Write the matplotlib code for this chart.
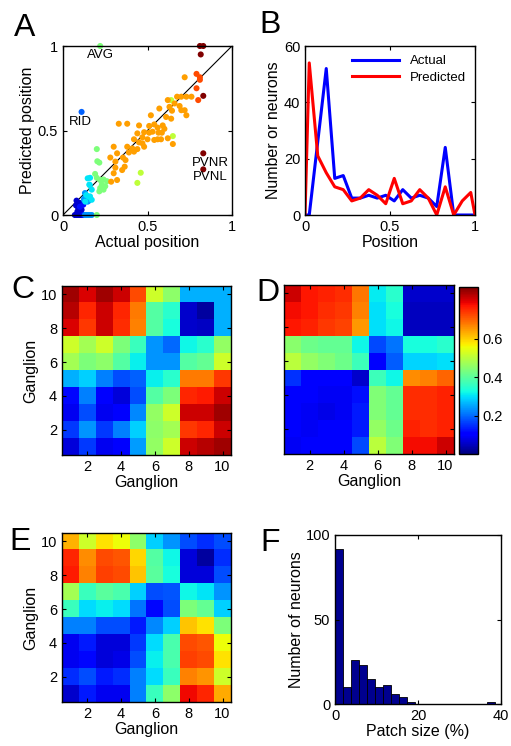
import numpy as np
import matplotlib
matplotlib.use('Agg')
import matplotlib.pyplot as plt

plt.rcParams['font.family'] = ['Liberation Sans', 'DejaVu Sans']
plt.rcParams['xtick.direction'] = 'in'
plt.rcParams['ytick.direction'] = 'in'
plt.rcParams['xtick.top'] = True
plt.rcParams['ytick.right'] = True
plt.rcParams['xtick.major.size'] = 3
plt.rcParams['ytick.major.size'] = 3
plt.rcParams['axes.linewidth'] = 1.0

# ---- panel A: predicted vs actual position, one group per colour ----
darkblue_x = [0.07, 0.08, 0.09, 0.10, 0.11, 0.12, 0.08, 0.10, 0.105, 0.077, 0.11, 0.09, 0.085, 0.095]
darkblue_y = [0.0, 0.0, 0.0, 0.0, 0.0, 0.0, 0.085, 0.071, 0.051, 0.057, 0.031, 0.041, 0.02, 0.0]
blue_x = [0.12, 0.13, 0.12, 0.10]
blue_y = [0.0, 0.0, 0.061, 0.049]
rid_x = [0.11]
rid_y = [0.61]
azure_x = [0.13, 0.14, 0.15, 0.16, 0.17, 0.13, 0.14, 0.15, 0.124, 0.126, 0.146]
azure_y = [0.0, 0.0, 0.0, 0.0, 0.0, 0.13, 0.10, 0.083, 0.09, 0.099, 0.079]
cyan_x = [0.16, 0.156, 0.17, 0.16, 0.17, 0.146, 0.138, 0.152, 0.132, 0.158]
cyan_y = [0.22, 0.18, 0.15, 0.11, 0.09, 0.217, 0.118, 0.108, 0.079, 0.177]
green_x = [0.22, 0.20, 0.203, 0.215, 0.19, 0.24, 0.26, 0.23, 0.22, 0.24, 0.215, 0.25, 0.20, 0.20, 0.22]
green_y = [1.0, 0.39, 0.318, 0.31, 0.243, 0.21, 0.20, 0.18, 0.16, 0.15, 0.14, 0.17, 0.22, 0.0, 0.207]
ygreen_x = [0.64, 0.65, 0.46, 0.44]
ygreen_y = [0.68, 0.467, 0.25, 0.19]
orange_x = [0.72, 0.73, 0.76, 0.70, 0.675, 0.62, 0.57, 0.63, 0.69, 0.70, 0.645, 0.72,
            0.64, 0.73, 0.52, 0.45, 0.33, 0.38, 0.51, 0.54, 0.56, 0.59, 0.60, 0.585,
            0.565, 0.53, 0.51, 0.48, 0.44, 0.47, 0.42, 0.45, 0.50, 0.54, 0.56, 0.58,
            0.62, 0.65, 0.30, 0.38, 0.41, 0.42, 0.44, 0.32, 0.355, 0.37, 0.31, 0.365,
            0.31, 0.35, 0.30, 0.285, 0.47, 0.48, 0.32, 0.28, 0.66, 0.61, 0.39]
orange_y = [0.815, 0.70, 0.70, 0.70, 0.70, 0.68, 0.63, 0.64, 0.645, 0.62, 0.617, 0.62,
            0.57, 0.59, 0.59, 0.53, 0.54, 0.54, 0.527, 0.536, 0.517, 0.53, 0.51, 0.487,
            0.487, 0.493, 0.487, 0.49, 0.483, 0.46, 0.448, 0.43, 0.448, 0.444, 0.448, 0.448,
            0.454, 0.42, 0.404, 0.404, 0.394, 0.375, 0.39, 0.365, 0.34, 0.325, 0.316, 0.286,
            0.28, 0.266, 0.247, 0.197, 0.424, 0.404, 0.207, 0.34, 0.66, 0.58, 0.37]
orangered_x = [0.79, 0.81, 0.79, 0.80, 0.81]
orangered_y = [0.835, 0.815, 0.75, 0.68, 0.80]
darkred_x = [0.81, 0.83, 0.815, 0.83, 0.83, 0.83]
darkred_y = [1.0, 1.0, 0.95, 0.705, 0.365, 0.27]

# ---- panel B: position histograms ----
pos_x = [0.0, 0.025, 0.075, 0.125, 0.175, 0.225, 0.275, 0.325, 0.375, 0.425, 0.475,
         0.525, 0.575, 0.625, 0.675, 0.725, 0.775, 0.825, 0.875, 0.925, 0.975, 1.0]
actual_n = [0, 0, 26, 52, 13, 14, 6, 6, 7, 6, 7, 5, 9, 6, 7, 6, 3, 24, 0, 0, 0, 0]
predicted_n = [0, 54, 21, 15, 10, 9, 5, 6, 9, 7, 4, 13, 4, 5, 9, 6, 0, 10, 0, 5, 8, 0]

# ---- panels C, D, E: ganglion x ganglion matrices (row 1 = ganglion 1) ----
c_mat = [
    [0.08, 0.18, 0.10, 0.12, 0.28, 0.53, 0.60, 0.93, 0.95, 0.97],
    [0.18, 0.27, 0.18, 0.25, 0.33, 0.52, 0.55, 0.85, 0.87, 0.93],
    [0.10, 0.20, 0.10, 0.12, 0.26, 0.53, 0.60, 0.93, 0.93, 0.97],
    [0.13, 0.25, 0.12, 0.08, 0.20, 0.45, 0.50, 0.87, 0.88, 0.93],
    [0.30, 0.33, 0.25, 0.20, 0.22, 0.36, 0.40, 0.78, 0.78, 0.85],
    [0.55, 0.50, 0.52, 0.45, 0.36, 0.27, 0.27, 0.45, 0.47, 0.60],
    [0.60, 0.55, 0.60, 0.50, 0.42, 0.27, 0.23, 0.37, 0.40, 0.53],
    [0.92, 0.85, 0.93, 0.86, 0.77, 0.45, 0.38, 0.07, 0.06, 0.30],
    [0.95, 0.87, 0.93, 0.87, 0.78, 0.45, 0.40, 0.07, 0.03, 0.30],
    [0.97, 0.92, 0.97, 0.93, 0.83, 0.60, 0.52, 0.30, 0.30, 0.30],
]
d_mat = [
    [0.09, 0.10, 0.10, 0.10, 0.17, 0.50, 0.44, 0.78, 0.78, 0.81],
    [0.10, 0.09, 0.10, 0.10, 0.13, 0.46, 0.42, 0.76, 0.75, 0.76],
    [0.10, 0.09, 0.08, 0.09, 0.13, 0.44, 0.41, 0.75, 0.75, 0.76],
    [0.10, 0.10, 0.09, 0.09, 0.12, 0.44, 0.41, 0.75, 0.75, 0.76],
    [0.15, 0.11, 0.11, 0.10, 0.06, 0.37, 0.32, 0.66, 0.67, 0.70],
    [0.50, 0.46, 0.44, 0.42, 0.37, 0.11, 0.19, 0.29, 0.29, 0.30],
    [0.45, 0.42, 0.41, 0.41, 0.32, 0.17, 0.21, 0.33, 0.33, 0.35],
    [0.77, 0.76, 0.74, 0.73, 0.65, 0.30, 0.32, 0.05, 0.05, 0.05],
    [0.78, 0.77, 0.75, 0.74, 0.67, 0.30, 0.33, 0.05, 0.05, 0.05],
    [0.81, 0.77, 0.76, 0.75, 0.68, 0.31, 0.35, 0.06, 0.06, 0.06],
]
e_mat = [
    [0.07, 0.15, 0.10, 0.10, 0.25, 0.42, 0.52, 0.90, 0.87, 0.73],
    [0.17, 0.20, 0.15, 0.17, 0.25, 0.34, 0.42, 0.77, 0.75, 0.60],
    [0.10, 0.13, 0.08, 0.09, 0.20, 0.36, 0.44, 0.84, 0.83, 0.67],
    [0.10, 0.15, 0.08, 0.08, 0.18, 0.34, 0.44, 0.83, 0.82, 0.64],
    [0.25, 0.25, 0.20, 0.20, 0.15, 0.26, 0.33, 0.70, 0.67, 0.50],
    [0.42, 0.34, 0.36, 0.34, 0.24, 0.13, 0.20, 0.50, 0.47, 0.33],
    [0.55, 0.42, 0.46, 0.44, 0.33, 0.20, 0.21, 0.37, 0.35, 0.27],
    [0.88, 0.77, 0.84, 0.83, 0.70, 0.46, 0.38, 0.08, 0.08, 0.20],
    [0.87, 0.76, 0.83, 0.82, 0.68, 0.45, 0.37, 0.08, 0.03, 0.17],
    [0.72, 0.60, 0.67, 0.64, 0.52, 0.33, 0.27, 0.20, 0.17, 0.20],
]
ganglion_ticks = [2, 4, 6, 8, 10]

# ---- panel F: patch size histogram ----
patch_edges = [0, 1.93, 3.86, 5.79, 7.72, 9.65, 11.58, 13.51, 15.44, 17.37, 19.3,
               21.23, 23.16, 25.09, 27.02, 28.95, 30.88, 32.81, 34.74, 36.67, 38.6]
patch_counts = [92, 10, 26, 23, 15, 10, 11, 6, 4, 1, 0, 0, 0, 0, 0, 0, 0, 0, 0, 1]

W, H = 511, 746
fig = plt.figure(figsize=(W / 100, H / 100), dpi=100)


def box(l, t, r, b):
    return [l / W, 1 - b / H, (r - l) / W, (b - t) / H]


tick_fs = 10.5
label_fs = 11.5
letter_fs = 23
jet = plt.cm.jet

# A
axA = fig.add_axes(box(63, 46, 232, 215))
axA.plot([0, 1], [0, 1], color='k', lw=0.8, zorder=1)
groups = [(darkblue_x, darkblue_y, 0.07), (blue_x, blue_y, 0.14), (rid_x, rid_y, 0.22),
          (azure_x, azure_y, 0.27), (cyan_x, cyan_y, 0.35), (green_x, green_y, 0.5),
          (ygreen_x, ygreen_y, 0.58), (orange_x, orange_y, 0.74), (orangered_x, orangered_y, 0.83),
          (darkred_x, darkred_y, 1.0)]
for gx, gy, c in groups:
    axA.scatter(gx, gy, s=19, color=jet(c), edgecolors='none', zorder=2, clip_on=False)
axA.text(0.22, 0.945, 'AVG', ha='center', va='center', fontsize=9.5)
axA.text(0.10, 0.55, 'RID', ha='center', va='center', fontsize=9.5)
axA.text(0.87, 0.31, 'PVNR', ha='center', va='center', fontsize=9.5)
axA.text(0.87, 0.227, 'PVNL', ha='center', va='center', fontsize=9.5)
axA.set_xlim(0, 1)
axA.set_ylim(0, 1)
axA.set_xticks([0, 0.5, 1], ['0', '0.5', '1'])
axA.set_yticks([0, 0.5, 1], ['0', '0.5', '1'])
axA.set_xlabel('Actual position', fontsize=label_fs, labelpad=1)
axA.set_ylabel('Predicted position', fontsize=label_fs, labelpad=2)

# B
axB = fig.add_axes(box(305, 46, 475, 215))
axB.plot(pos_x, actual_n, color='#0000ff', lw=2.2, label='Actual')
axB.plot(pos_x, predicted_n, color='#ff0000', lw=2.2, label='Predicted')
axB.set_xlim(0, 1)
axB.set_ylim(0, 60)
axB.set_xticks([0, 0.5, 1], ['0', '0.5', '1'])
axB.set_yticks([0, 20, 40, 60])
axB.set_xlabel('Position', fontsize=label_fs, labelpad=1)
axB.set_ylabel('Number or neurons', fontsize=label_fs, labelpad=2)
axB.legend(loc='upper right', frameon=False, fontsize=9.5, handlelength=3.6,
           borderaxespad=0.3, labelspacing=0.3)

# C, D, E
def matrix_panel(rect, mat, vmin, vmax, ylabels=True):
    ax = fig.add_axes(rect)
    im = ax.imshow(np.array(mat), cmap='jet', vmin=vmin, vmax=vmax, origin='lower',
                   extent=[0.5, 10.5, 0.5, 10.5], aspect='auto', interpolation='nearest')
    ax.set_xticks(ganglion_ticks)
    ax.set_yticks(ganglion_ticks)
    if not ylabels:
        ax.set_yticklabels([])
    ax.set_xlabel('Ganglion', fontsize=label_fs, labelpad=1)
    if ylabels:
        ax.set_ylabel('Ganglion', fontsize=label_fs, labelpad=2)
    return ax, im

axC, _ = matrix_panel(box(62, 286, 231, 455), c_mat, 0, 1)
axD, imD = matrix_panel(box(284, 285, 454, 454), d_mat, 0, 0.87, ylabels=False)
cax = fig.add_axes(box(459, 287, 478, 454))
cb = fig.colorbar(imD, cax=cax, ticks=[0.2, 0.4, 0.6])
cb.ax.tick_params(direction='in', length=3, labelsize=tick_fs)
cb.outline.set_linewidth(1.0)
axE, _ = matrix_panel(box(62, 533, 231, 702), e_mat, 0, 1)

# F
axF = fig.add_axes(box(335, 535, 501, 704))
axF.hist(patch_edges[:-1], bins=patch_edges, weights=patch_counts,
         color=(0, 0, 0.5625), edgecolor='k', linewidth=0.6)
axF.set_xlim(0, 40)
axF.set_ylim(0, 100)
axF.set_xticks([0, 20, 40])
axF.set_yticks([0, 50, 100])
axF.set_xlabel('Patch size (%)', fontsize=label_fs, labelpad=1)
axF.set_ylabel('Number of neurons', fontsize=label_fs, labelpad=1)

for ax in [axA, axB, axC, axD, axE, axF]:
    ax.tick_params(labelsize=tick_fs, length=3, width=0.8)

# panel letters
for letter, px, py in [('A', 25, 28), ('B', 270, 25), ('C', 23, 290),
                       ('D', 268, 293), ('E', 20, 542), ('F', 270, 543)]:
    fig.text(px / W, 1 - py / H, letter, fontsize=letter_fs, ha='center', va='center')

fig.savefig('out.png', dpi=100)
